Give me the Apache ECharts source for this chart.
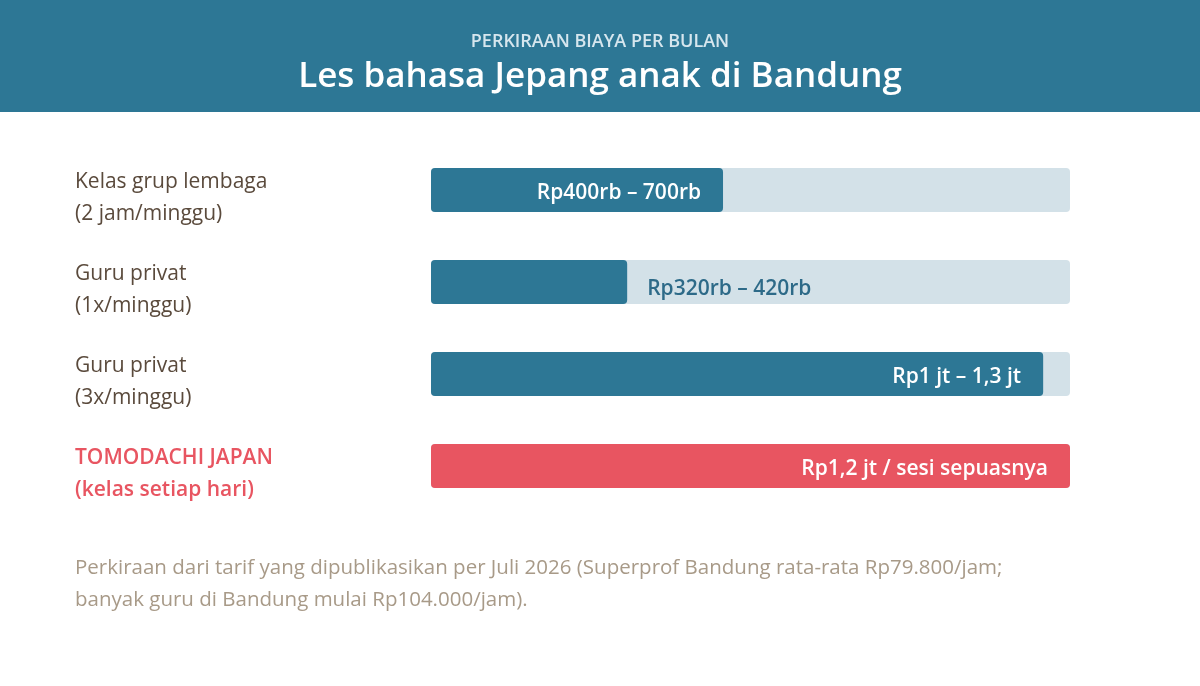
<!DOCTYPE html>
<html><head><meta charset="utf-8">
<script src="https://cdn.jsdelivr.net/npm/echarts@6/dist/echarts.min.js"></script>
<style>html,body{margin:0;padding:0;background:#fff}#c{width:1200px;height:686px}</style>
</head><body><div id="c"></div>
<script>
const categories = ['Kelas grup lembaga\n(2 jam/minggu)', 'Guru privat\n(1x/minggu)', 'Guru privat\n(3x/minggu)', 'TOMODACHI JAPAN\n(kelas setiap hari)'];
const values = [45.7, 30.7, 95.8, 100];
const valueLabels = ['Rp400rb – 700rb', 'Rp320rb – 420rb', 'Rp1 jt – 1,3 jt', 'Rp1,2 jt / sesi sepuasnya'];
const font = '"Open Sans", "Noto Sans", sans-serif';

const chart = echarts.init(document.getElementById('c'));
const data = values.map((v, i) => {
  const item = { value: v, itemStyle: { color: i === 3 ? '#e85561' : '#2d7795' } };
  if (i === 1) {
    item.label = { position: 'right', color: '#2d6a88', distance: 20, offset: [0, 7] };
  } else {
    item.label = { position: 'insideRight', color: '#fff', distance: 22, offset: [0, 3] };
  }
  return item;
});
chart.setOption({
  graphic: [
    { type: 'rect', left: 0, top: 0, shape: { width: 1200, height: 112 }, style: { fill: '#2d7795' } },
    { type: 'text', left: 'center', top: 33, style: { text: 'PERKIRAAN BIAYA PER BULAN', fill: '#d6e6ee', font: '600 18px ' + font } },
    { type: 'text', left: 'center', top: 60, style: { text: 'Les bahasa Jepang anak di Bandung', fill: '#fff', font: '600 35px ' + font } },
    { type: 'text', left: 75, top: 552, style: { text: 'Perkiraan dari tarif yang dipublikasikan per Juli 2026 (Superprof Bandung rata-rata Rp79.800/jam;\nbanyak guru di Bandung mulai Rp104.000/jam).', fill: '#a89a88', font: '20.5px ' + font, lineHeight: 32 } }
  ],
  grid: { left: 431, right: 130, top: 144, height: 368 },
  xAxis: { type: 'value', min: 0, max: 100, show: false },
  yAxis: {
    type: 'category', data: categories, inverse: true,
    axisLine: { show: false }, axisTick: { show: false },
    axisLabel: {
      align: 'left', margin: 356, fontFamily: font, fontSize: 21, lineHeight: 32, color: '#5a4a3c',
      padding: [16, 0, 0, 0],
      formatter: (v, i) => i === 3 ? v.split('\n').map(s => '{r|' + s + '}').join('\n') : v,
      rich: { r: { color: '#e85561', fontWeight: 600, fontSize: 21, lineHeight: 32, fontFamily: font } }
    }
  },
  series: [{
    type: 'bar', data, barWidth: 44,
    itemStyle: { borderRadius: 4 },
    showBackground: true,
    backgroundStyle: { color: '#d3e1e8', borderRadius: 4 },
    label: {
      show: true, fontFamily: font, fontSize: 21, fontWeight: 600,
      formatter: p => valueLabels[p.dataIndex]
    }
  }]
});
</script></body></html>
